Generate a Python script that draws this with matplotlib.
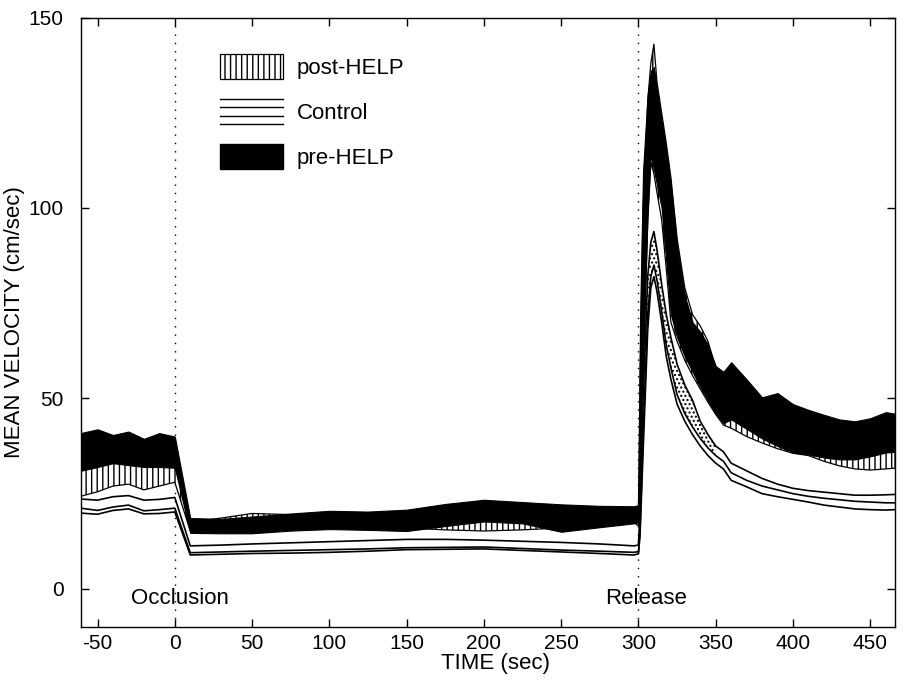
import matplotlib
matplotlib.use("Agg")

import numpy as np
import matplotlib.pyplot as plt
from matplotlib.patches import Patch
from matplotlib.lines import Line2D
from matplotlib.legend_handler import HandlerBase

# ---- data ----
t = [-61, -50, -40, -30, -20, -10, 0, 10, 30, 50, 75, 100, 125, 150, 175, 200,
     225, 250, 275, 297, 300, 301, 303, 306, 308, 310, 312, 315, 318, 321, 325,
     330, 335, 340, 345, 350, 355, 360, 370, 380, 390, 400, 410, 420, 430, 440,
     450, 460, 466]

pre_hi = [40.9, 41.9, 40.4, 41.3, 39.4, 40.9, 40.0, 18.6, 18.4, 19.0, 19.8, 20.5,
          20.3, 20.8, 22.3, 23.4, 22.8, 22.2, 21.8, 21.7, 22.0, 70, 110, 130, 136,
          137, 131, 123, 115, 106, 90, 77, 70, 67.5, 64, 58.5, 57, 59.5, 55, 50.3,
          51.4, 48.5, 47, 45.7, 44.5, 44, 44.8, 46.4, 46]
pre_lo = [31.0, 32.0, 33.0, 32.5, 32.0, 32.0, 31.8, 14.7, 14.6, 14.6, 15.3, 15.7,
          15.5, 15.2, 16.5, 17.7, 17.2, 15.0, 16.2, 17.2, 17.5, 35, 62, 100, 114,
          110, 106, 100, 86, 72, 66, 61, 57, 53, 49.5, 46, 43.5, 44.5, 42, 39.5,
          37.5, 35.8, 35.3, 34.5, 34, 34, 34.8, 35.8, 36]

post_hi = [31.5, 32.5, 33.5, 33.0, 32.5, 32.5, 32.3, 17.5, 18.6, 19.8, 19.5, 19.0,
           19.0, 19.5, 19.5, 20.0, 20.0, 19.5, 19.5, 19.5, 21, 55, 100, 128, 138,
           143, 133, 125, 117, 108, 92, 79, 72, 69, 65, 58, 55, 54, 50, 46, 44, 42,
           41, 40, 39, 39, 39.5, 40, 40]
post_lo = [24.3, 25.5, 27.0, 27.5, 26.0, 27.0, 28.0, 15.2, 15.3, 15.2, 15.8, 16.2,
           16.0, 16.0, 15.5, 15.2, 15.5, 16.0, 16.8, 17.5, 16.5, 30, 55, 96, 112,
           109, 104, 97, 84, 70, 65, 60, 56, 52.5, 49, 45.8, 43, 42.2, 40, 38.3,
           36.8, 35.6, 35, 33.5, 32.3, 31.5, 31.2, 31.5, 31.7]

ctl_hi = [23.6, 23.3, 24.2, 24.5, 23.3, 23.5, 24.0, 11.3, 11.5, 11.8, 12.1, 12.4,
          12.7, 13.0, 13.0, 12.8, 12.5, 12.2, 11.8, 11.3, 11.5, 20, 50, 82, 91,
          93.8, 89, 80, 72, 66, 59, 53.5, 49.5, 44, 40.5, 37.5, 36, 33, 31, 29,
          27.5, 26.4, 25.8, 25.4, 25.0, 24.6, 24.6, 24.7, 24.8]
ctl_mid = [21.2, 20.6, 21.5, 22.0, 20.5, 20.8, 21.2, 9.5, 9.7, 9.9, 10.1, 10.3,
           10.5, 10.8, 10.9, 11.0, 10.6, 10.2, 9.9, 9.6, 9.8, 15, 40, 72, 82, 85,
           81, 73, 64, 58, 51, 46, 42.5, 39.5, 37, 35, 33.5, 30.5, 28.5, 27, 26,
           25, 24.3, 23.8, 23.4, 23.0, 22.8, 22.6, 22.6]
ctl_lo = [19.9, 19.6, 20.6, 21.0, 19.7, 19.8, 20.2, 8.9, 9.1, 9.3, 9.4, 9.6, 9.9,
          10.3, 10.4, 10.5, 10.1, 9.7, 9.3, 8.9, 9.2, 14, 36, 68, 79, 82, 78, 70,
          61, 55, 48.5, 44, 40.5, 37.5, 35, 33, 31.5, 28.5, 26.8, 25, 24.2, 23.5,
          22.8, 22.0, 21.5, 21.0, 20.8, 20.7, 20.8]

occlusion_t = 0
release_t = 300

t = np.array(t)


class HandlerHLines(HandlerBase):
    """legend swatch drawn as stacked horizontal lines"""
    def __init__(self, n=4):
        super().__init__()
        self.n = n

    def create_artists(self, legend, orig_handle, xdescent, ydescent,
                       width, height, fontsize, trans):
        ys = np.linspace(0, height, self.n) - ydescent
        arts = []
        for y in ys:
            ln = Line2D([-xdescent, width - xdescent], [y, y],
                        color="black", lw=1.0)
            ln.set_transform(trans)
            arts.append(ln)
        return arts


plt.rcParams["font.family"] = ["Liberation Sans", "DejaVu Sans"]
plt.rcParams["axes.unicode_minus"] = False
plt.rcParams["hatch.linewidth"] = 1.0

fig = plt.figure(figsize=(9.09, 6.81), dpi=100)
ax = fig.add_axes([0.0886, 0.0793, 0.896, 0.895])

# post-HELP (vertical hatch), pre-HELP (solid black) on top
ax.fill_between(t, post_lo, post_hi, facecolor="white", edgecolor="black",
                hatch="|||", linewidth=0.9, zorder=2)
ax.fill_between(t, pre_lo, pre_hi, facecolor="black", edgecolor="black",
                linewidth=0.8, zorder=3)

# control: three lines, dotted fill through the release transient
steep = (t >= release_t) & (t <= release_t + 50)
ax.fill_between(t, ctl_mid, ctl_hi, where=steep, facecolor="white",
                edgecolor="black", hatch="....", linewidth=0, zorder=4)
for y in (ctl_hi, ctl_mid, ctl_lo):
    ax.plot(t, y, color="black", lw=1.2, zorder=5)

for xv in (occlusion_t, release_t):
    ax.axvline(xv, color="black", lw=1.0, ls=(0, (1, 5)), zorder=1)

ax.text(3, -2.5, "Occlusion", fontsize=16, ha="center", va="center")
ax.text(305, -2.5, "Release", fontsize=16, ha="center", va="center")

ax.set_xlim(-61, 466)
ax.set_ylim(-10, 150)
ax.set_xticks(np.arange(-50, 451, 50))
ax.set_yticks([0, 50, 100, 150])
ax.tick_params(direction="in", top=True, right=True, length=6, width=1,
               labelsize=15)
ax.tick_params(axis="y", pad=12)
ax.tick_params(axis="x", pad=5)
for s in ax.spines.values():
    s.set_linewidth(1.0)

ax.set_xlabel("TIME (sec)", fontsize=16)
ax.set_ylabel("MEAN VELOCITY (cm/sec)", fontsize=16)
ax.xaxis.set_label_coords(0.51, -0.043)
ax.yaxis.set_label_coords(-0.068, 0.5)

post_h = Patch(facecolor="white", edgecolor="black", hatch="|||", linewidth=0.9)
ctl_h = Line2D([], [])
pre_h = Patch(facecolor="black", edgecolor="black")
ax.legend([post_h, ctl_h, pre_h], ["post-HELP", "Control", "pre-HELP"],
          handler_map={ctl_h: HandlerHLines(4)},
          loc="upper left", bbox_to_anchor=(0.171, 0.94), frameon=False,
          fontsize=16, handlelength=2.84, handleheight=1.35,
          labelspacing=0.9, handletextpad=0.63, borderpad=0, borderaxespad=0)

fig.savefig("out.png", dpi=100)
